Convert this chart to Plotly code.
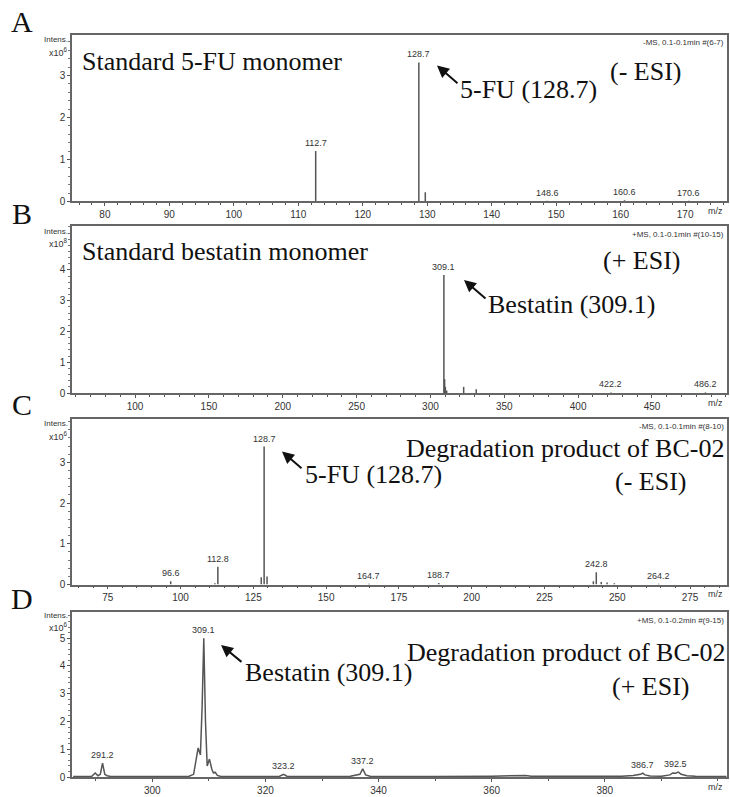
import plotly.graph_objects as go

W, H = 730, 797

# ---------------- data ----------------
# Panel A: standard 5-FU monomer (-ESI), stick spectrum (x10^6)
a_mz = [112.7, 128.7, 129.7, 148.6, 160.6, 170.6]
a_int = [1.20, 3.31, 0.22, 0.02, 0.03, 0.02]
a_labels = ["112.7", "128.7", "", "148.6", "160.6", "170.6"]

# Panel B: standard bestatin monomer (+ESI)
b_mz = [309.1, 309.6, 310.1, 311.0, 322.5, 331.0, 422.2, 486.2]
b_int = [3.84, 0.45, 0.20, 0.08, 0.20, 0.12, 0.02, 0.02]
b_labels = ["309.1", "", "", "", "", "", "422.2", "486.2"]

# Panel C: degradation product of BC-02 (-ESI)
c_mz = [96.6, 111.8, 112.8, 127.7, 128.7, 129.7, 164.7, 188.7, 241.8, 242.8, 244.5, 246.5, 249.0, 264.2]
c_int = [0.08, 0.03, 0.44, 0.18, 3.39, 0.20, 0.02, 0.04, 0.08, 0.30, 0.06, 0.05, 0.03, 0.02]
c_labels = ["96.6", "", "112.8", "", "128.7", "", "164.7", "188.7", "", "242.8", "", "", "", "264.2"]

# Panel D: degradation product of BC-02 (+ESI), profile spectrum
d_mz = [286.0, 288.0, 289.3, 289.9, 290.4, 290.8, 291.2, 291.6, 292.0, 292.5, 293.5, 296.0,
        300.0, 304.0, 306.5, 307.3, 307.7, 308.1, 308.5, 308.8, 309.1, 309.4, 309.7, 310.1,
        310.5, 310.8, 311.1, 311.5, 312.0, 314.0, 318.0, 322.5, 323.2, 323.8, 326.0, 330.0,
        335.0, 336.3, 336.7, 337.2, 337.7, 338.5, 342.0, 350.0, 360.0, 365.0, 366.0, 367.0,
        375.0, 383.0, 385.0, 386.3, 386.7, 387.1, 388.0, 390.0, 391.5, 392.0, 392.5, 393.0,
        393.5, 394.5, 396.0, 401.5]
d_int = [0.02, 0.02, 0.03, 0.15, 0.05, 0.10, 0.50, 0.10, 0.05, 0.03, 0.02, 0.02,
         0.02, 0.02, 0.03, 0.10, 0.60, 1.05, 0.80, 2.50, 5.00, 2.00, 0.40, 0.65,
         0.30, 0.15, 0.18, 0.06, 0.03, 0.02, 0.02, 0.03, 0.10, 0.03, 0.02, 0.02,
         0.03, 0.08, 0.10, 0.30, 0.08, 0.03, 0.02, 0.02, 0.03, 0.04, 0.06, 0.03,
         0.02, 0.03, 0.06, 0.10, 0.14, 0.08, 0.04, 0.03, 0.08, 0.15, 0.14, 0.18,
         0.10, 0.05, 0.03, 0.02]
d_label_mz = [291.2, 309.1, 323.2, 337.2, 386.7, 392.5]
d_label_int = [0.50, 5.00, 0.10, 0.30, 0.14, 0.18]

panel_letters = ["A", "B", "C", "D"]
scan_info = ["-MS, 0.1-0.1min #(6-7)", "+MS, 0.1-0.1min #(10-15)",
             "-MS, 0.1-0.1min #(8-10)", "+MS, 0.1-0.2min #(9-15)"]
y_exponent = ["6", "8", "6", "6"]
y_tickvals = [[0, 1, 2, 3], [0, 1, 2, 3, 4], [0, 1, 2, 3], [0, 1, 2, 3, 4, 5]]
x_tickvals = [[80, 90, 100, 110, 120, 130, 140, 150, 160, 170],
              [100, 150, 200, 250, 300, 350, 400, 450],
              [75, 100, 125, 150, 175, 200, 225, 250, 275],
              [300, 320, 340, 360, 380]]

# ---------------- layout geometry (pixels) ----------------
X0, X1 = 72, 727
panel_px = [(35, 203), (228, 396), (422, 589), (617, 783)]  # top, bottom
x_ranges = [[74.9, 176.5], [57.3, 500.8], [62.7, 287.7], [285.8, 401.6]]
y_ranges = [[0, 3.97], [0, 5.42], [0, 4.07], [0, 5.93]]
x_minor = [2, 10, 5, 10]
intens_off = [(5, 17), (5, 17), (5, 17), (3, 15)]


def px(x):
    return x / W


def py(y):
    return 1 - y / H


def sticks(mz, it):
    xs, ys = [], []
    for m, v in zip(mz, it):
        xs += [m, m, None]
        ys += [0, v, None]
    return xs, ys


fig = go.Figure()
line_col = "#555555"
tick_font = dict(family="Liberation Sans, Arial", size=10, color="#333")
serif = "Liberation Serif, Times New Roman"

stick_data = [(a_mz, a_int), (b_mz, b_int), (c_mz, c_int)]
for i, (mz, it) in enumerate(stick_data):
    xs, ys = sticks(mz, it)
    fig.add_trace(go.Scatter(x=xs, y=ys, mode="lines", line=dict(color=line_col, width=1.5),
                             xaxis=f"x{i+1}", yaxis=f"y{i+1}", showlegend=False, hoverinfo="skip"))
fig.add_trace(go.Scatter(x=d_mz, y=d_int, mode="lines", line=dict(color=line_col, width=1.5),
                         xaxis="x4", yaxis="y4", showlegend=False, hoverinfo="skip"))

axis_common = dict(showline=True, linecolor="#666", linewidth=1.6, mirror=True,
                   ticks="outside", ticklen=3, tickcolor="#555", tickwidth=1,
                   showgrid=False, zeroline=False, tickfont=tick_font)

layout = {}
for i in range(4):
    top, bot = panel_px[i]
    layout[f"xaxis{i+1}"] = dict(axis_common, domain=[px(X0), px(X1)], range=x_ranges[i],
                                 anchor=f"y{i+1}", tickvals=x_tickvals[i],
                                 minor=dict(ticks="outside", ticklen=2, dtick=x_minor[i], tickcolor="#555"))
    layout[f"yaxis{i+1}"] = dict(axis_common, domain=[py(bot), py(top)], range=y_ranges[i],
                                 anchor=f"x{i+1}", tickvals=y_tickvals[i],
                                 minor=dict(ticks="outside", ticklen=2, dtick=0.2, tickcolor="#777"))

ann = []
small = dict(family="Liberation Sans, Arial", size=9, color="#333")


def peak_labels(mz, it, labels, axis):
    for m, v, t in zip(mz, it, labels):
        if t:
            ann.append(dict(x=m, y=v, xref=f"x{axis}", yref=f"y{axis}", text=t, showarrow=False,
                            xanchor="center", yanchor="bottom", yshift=1, font=small))


peak_labels(a_mz, a_int, a_labels, 1)
peak_labels(b_mz, b_int, b_labels, 2)
peak_labels(c_mz, c_int, c_labels, 3)
peak_labels(d_label_mz, d_label_int, [f"{m:.1f}" for m in d_label_mz], 4)


def paper_text(x, y, t, font, xanchor):
    ann.append(dict(x=px(x), y=py(y), xref="paper", yref="paper", text=t, showarrow=False,
                    xanchor=xanchor, yanchor="middle", font=font))


sans8 = dict(family="Liberation Sans, Arial", size=8, color="#333")
sans9 = dict(family="Liberation Sans, Arial", size=9, color="#333")
letter_y = [22, 215, 408, 603]
for i in range(4):
    top, bot = panel_px[i]
    o1, o2 = intens_off[i]
    paper_text(22, letter_y[i], panel_letters[i], dict(family=serif, size=30, color="#111"), "center")
    paper_text(70, top + o1, "Intens.", sans8, "right")
    paper_text(70, top + o2, f"x10<sup>{y_exponent[i]}</sup>", sans9, "right")
    paper_text(726, top + 8, scan_info[i], sans8, "right")
    paper_text(715, bot + 10, "m/z", sans9, "center")

big = dict(family=serif, size=26, color="#111")


def text(x, y, t):
    paper_text(x, y, t, big, "left")


def arrow(hx, hy, tx, ty):
    ann.append(dict(x=px(hx), y=py(hy), xref="paper", yref="paper", ax=tx - hx, ay=ty - hy,
                    text="", showarrow=True, arrowhead=2,
                    arrowsize=1.2, arrowwidth=2, arrowcolor="#111"))


# Panel A
text(80, 62, "Standard 5-FU monomer")
text(458, 90, "5-FU (128.7)")
text(608, 72, "(- ESI)")
arrow(437, 66, 459, 85)
# Panel B
text(80, 253, "Standard bestatin monomer")
text(486, 307, "Bestatin (309.1)")
text(601, 262, "(+ ESI)")
arrow(464, 282, 487, 302)
# Panel C
text(404, 452, "Degradation product of BC-02")
text(303, 478, "5-FU (128.7)")
text(613, 485, "(- ESI)")
arrow(282, 455, 303, 473)
# Panel D
text(405, 657, "Degradation product of BC-02")
text(243, 678, "Bestatin (309.1)")
text(610, 692, "(+ ESI)")
arrow(221, 650, 243, 668)

fig.update_layout(width=W, height=H, margin=dict(l=0, r=0, t=0, b=0),
                  paper_bgcolor="white", plot_bgcolor="white", annotations=ann, **layout)

fig.write_html("out.html", config={"displayModeBar": False},
               post_script="document.body.style.margin='0';document.body.style.overflow='hidden';")
